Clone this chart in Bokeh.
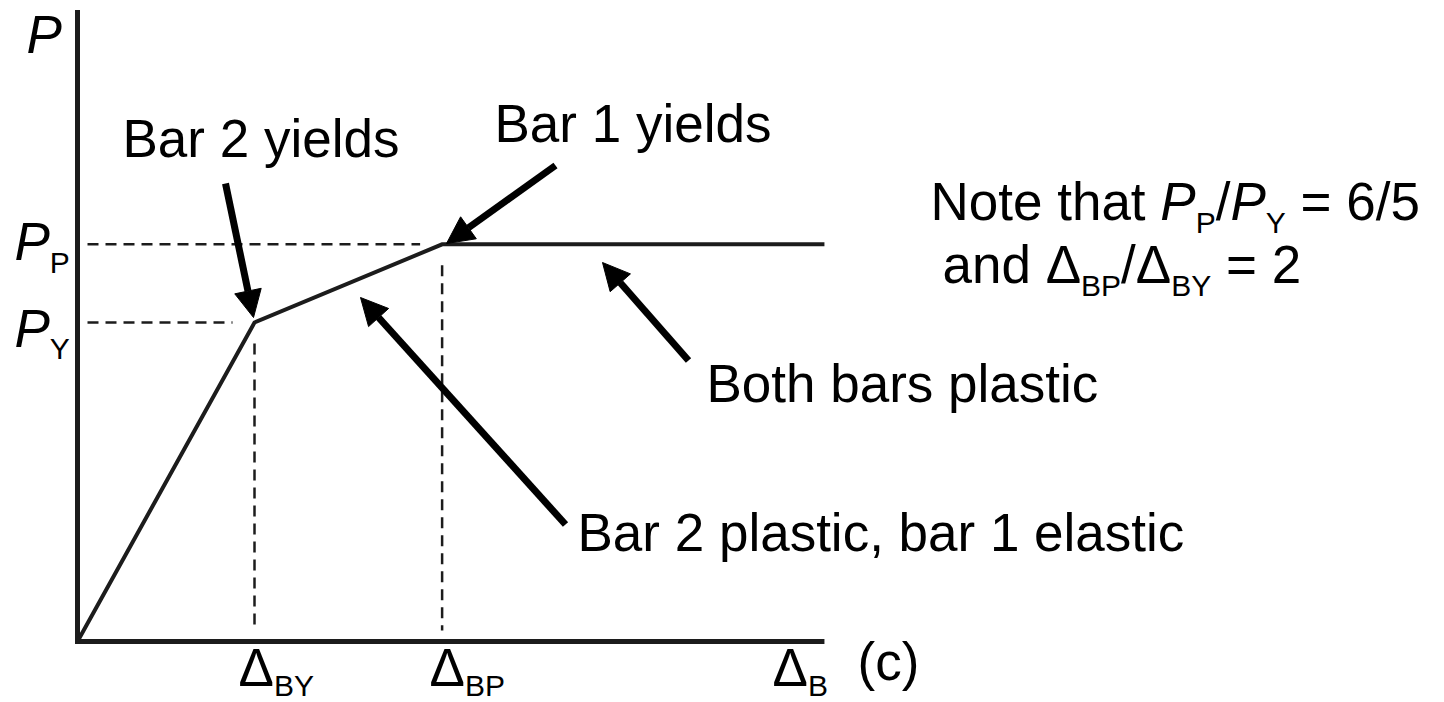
from bokeh.plotting import figure
from bokeh.models import Range1d, Label, Arrow, NormalHead
from bokeh.embed import file_html
from bokeh.resources import INLINE

# ---------------- data ----------------
delta_points = [0.0, 1.0, 2.06, 4.22]      # Δ_B : origin, Δ_BY, Δ_BP, end of axis
load_points = [0.0, 1.0, 1.245, 1.245]     # P   : 0, P_Y, P_P, P_P
delta_by = 1.0
delta_bp = 2.06
delta_end = 4.22
p_y = 1.0
p_p = 1.245
p_top = 1.98
delta_subs = ["BY", "BP", "B"]
load_subs = ["Y", "P"]

# ---------------- layout ----------------
FIG_W, FIG_H = 1444, 702
OX, OY = 77, 641             # origin in page pixels
PX, PY = 177.0, 319.0        # pixels per data unit
FONT = "Liberation Sans"
INK = "#1c1c1c"
BASE_SHIFT = 0.35            # label anchor sits this many font sizes above the drawn baseline

def X(px):
    return (px - OX) / PX

def Y(py):
    return (OY - py) / PY

p = figure(width=FIG_W, height=FIG_H, output_backend="svg", toolbar_location=None,
           x_range=Range1d(X(0), X(FIG_W)), y_range=Range1d(Y(FIG_H), Y(0)),
           min_border=0)
p.axis.visible = False
p.grid.visible = False
p.outline_line_color = None
p.background_fill_color = "white"
p.border_fill_color = "white"

# axes
p.line([0, 0, delta_end], [p_top, 0, 0], line_width=5, color=INK, line_join="miter")

# dashed guide lines
gx0, gx1 = 10 / PX, 22 / PX
gy0, gy1 = 11 / PY, 21 / PY
p.segment(x0=[gx0, gx0], y0=[p_y, p_p], x1=[delta_by - gx1, delta_bp - gx1], y1=[p_y, p_p],
          line_width=2.5, color=INK, line_dash="11 7")
p.segment(x0=[delta_by, delta_bp], y0=[p_y - gy1, p_p - gy1], x1=[delta_by, delta_bp], y1=[gy0, gy0],
          line_width=2.5, color=INK, line_dash="11 7")

# load-displacement curve
p.line(delta_points, load_points, line_width=4, color=INK, line_join="miter")

# ---------------- text ----------------
W = {' ': 278, 'N': 722, 'o': 556, 't': 278, 'e': 556, 'h': 556, 'a': 556, 'P': 667, '/': 278,
     '=': 584, '6': 556, '5': 556, 'n': 556, 'd': 556, 'Δ': 668, 'B': 667, 'Y': 667, '2': 556}

def width(s, size):
    return sum(W.get(c, 556) for c in s) * size / 1000.0

def lab(text, px, base, size=53, italic=False):
    p.add_layout(Label(x=X(px), y=Y(base - BASE_SHIFT * size), text=text, text_font=FONT,
                       text_font_size=f"{size}px",
                       text_font_style="italic" if italic else "normal", text_color="black",
                       text_align="left", text_baseline="alphabetic"))

def rich(parts, px, base):
    x = px
    for text, size, italic, drop in parts:
        stripped = text.lstrip(" ")
        lead = width(text[:len(text) - len(stripped)], size)
        if stripped.strip():
            lab(stripped.rstrip(" "), x + lead, base + drop, size, italic)
        x += width(text, size)

MAIN, SUB, DROP = 53, 30, 12

# axis labels
lab("P", 26, 53, 53, italic=True)
rich([("P", 53, True, 0), (load_subs[1], 30, False, 12)], 14, 260)
rich([("P", 53, True, 0), (load_subs[0], 30, False, 11)], 14, 347)
for xs, sub in zip([238, 429, 772], delta_subs):
    rich([("Δ", MAIN, False, 0), (sub, SUB, False, 9)], xs, 686)

# annotations
lab("Bar 2 yields", 122, 157)
lab("Bar 1 yields", 494, 142)
lab("Both bars plastic", 706, 402)
lab("Bar 2 plastic, bar 1 elastic", 577, 551)
lab("(c)", 857, 680)

rich([("Note that ", MAIN, False, 0), ("P", MAIN, True, 0), ("P", SUB, False, DROP),
      ("/", MAIN, False, 0), ("P", MAIN, True, 0), ("Y", SUB, False, DROP),
      (" = 6/5", MAIN, False, 0)], 930, 220)
rich([("and ", MAIN, False, 0), ("Δ", MAIN, False, 0), ("BP", SUB, False, DROP),
      ("/", MAIN, False, 0), ("Δ", MAIN, False, 0), ("BY", SUB, False, DROP),
      (" = 2", MAIN, False, 0)], 942, 283)

# arrows (tail -> tip, page pixels converted to data)
arrows = [((225, 183), (253, 317)),
          ((555, 165), (446, 243)),
          ((565, 524), (360, 297)),
          ((688, 360), (602, 262))]
for (tx, ty), (hx, hy) in arrows:
    p.add_layout(Arrow(end=NormalHead(size=27, fill_color="black", line_color="black", line_width=1),
                       x_start=X(tx), y_start=Y(ty), x_end=X(hx), y_end=Y(hy),
                       line_width=7, line_color="black"))

open("out.html", "w").write(file_html(p, INLINE))
